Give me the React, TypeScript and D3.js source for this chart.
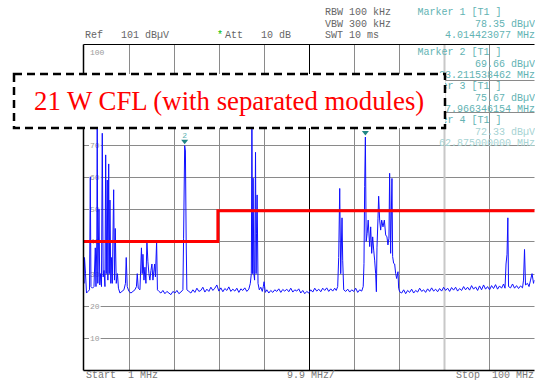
import React from "react";
import * as d3 from "d3";

// ---- data ----
const traceMHz = [
  1.0, 1.11, 1.22, 1.44, 1.66, 1.99, 2.32, 2.49, 2.64, 2.97, 3.3, 3.59, 3.74, 3.92, 4.014, 4.14, 4.4, 4.57, 4.73, 4.95,
  5.12, 5.32, 5.5, 5.71, 5.87, 6.0, 6.22, 6.35, 6.53, 6.66, 6.81, 6.99, 7.14, 7.32, 7.62, 7.8, 7.97, 8.19, 8.46, 8.67,
  9.0, 9.44, 9.88, 10.21, 10.38, 10.6, 10.98, 11.42, 11.85, 12.29, 12.62, 12.8, 13.02, 13.39, 13.72, 13.89, 14.05, 14.27, 14.49, 14.7,
  14.92, 15.14, 15.36, 15.58, 15.8, 16.02, 16.24, 16.61, 16.79, 17.05, 17.23, 17.56, 17.99, 18.43, 18.87, 19.31, 19.75, 20.19, 20.63, 21.07,
  21.51, 21.94, 22.38, 22.82, 22.97, 23.21, 23.37, 23.54, 23.69, 24.13, 24.57, 25.01, 25.45, 25.89, 26.33, 26.76, 27.2, 27.64, 28.08, 28.52,
  28.96, 29.4, 29.83, 30.27, 30.71, 31.15, 31.59, 32.03, 32.47, 32.9, 33.34, 33.78, 34.22, 34.66, 35.1, 35.54, 35.97, 36.41, 36.85, 37.29,
  37.62, 37.84, 37.966, 38.12, 38.23, 38.39, 38.56, 38.76, 38.89, 38.98, 39.11, 39.31, 39.59, 39.92, 40.25, 40.47, 40.64, 40.91, 41.24, 41.68,
  42.11, 42.55, 42.99, 43.43, 43.87, 44.31, 44.74, 45.18, 45.62, 46.06, 46.5, 46.94, 47.38, 47.81, 48.25, 48.69, 49.13, 49.57, 50.01, 50.44,
  50.88, 51.32, 51.76, 52.2, 52.64, 53.08, 53.51, 53.95, 54.39, 54.83, 55.27, 55.71, 56.14, 56.48, 56.8, 57.02, 57.24, 57.46, 57.75, 57.9,
  58.12, 58.56, 59.0, 59.44, 59.88, 60.32, 60.75, 61.19, 61.63, 62.07, 62.4, 62.57, 62.72, 62.875, 63.05, 63.27, 63.49, 63.82, 64.04, 64.26,
  64.48, 64.7, 64.91, 65.13, 65.29, 65.42, 65.64, 65.79, 66.01, 66.23, 66.45, 66.74, 67.04, 67.33, 67.61, 67.83, 68.05, 68.2, 68.42, 68.71,
  68.86, 69.08, 69.3, 69.52, 69.74, 70.03, 70.18, 70.4, 70.84, 71.28, 71.72, 72.15, 72.59, 73.03, 73.47, 73.91, 74.35, 74.79, 75.23, 75.66,
  76.1, 76.54, 76.98, 77.42, 77.86, 78.3, 78.73, 79.17, 79.61, 80.05, 80.49, 80.93, 81.37, 81.8, 82.24, 82.68, 83.12, 83.56, 84.0, 84.44,
  84.87, 85.31, 85.75, 86.19, 86.63, 87.07, 87.51, 87.94, 88.38, 88.82, 89.26, 89.7, 90.14, 90.58, 91.01, 91.45, 91.89, 92.33, 92.77, 93.21,
  93.53, 93.75, 93.97, 94.15, 94.3, 94.74, 95.18, 95.62, 96.06, 96.5, 96.94, 97.37, 97.59, 97.81, 98.03, 98.47, 98.8, 99.13, 99.46, 99.79,
  100.0,
];
const traceDbuv = [
  29, 27, 35, 30, 24, 24.5, 25, 60, 26, 25.5, 26, 38, 26, 40, 78.35, 27, 50, 26.5, 30, 26,
  73.5, 29, 31, 26, 66.8, 30, 59, 28, 64, 30, 52.8, 27, 35, 27, 56, 28, 44, 27, 30, 25.5,
  24, 24.5, 25, 27, 35, 26, 24.5, 24, 24.5, 25, 26, 30, 25.5, 25, 38, 30, 36, 28, 32, 27,
  40, 33.7, 30, 28, 31, 33, 28, 33, 29, 40, 25, 24.5, 24, 24.8, 23.8, 24.5, 24, 23.5, 24.5, 24,
  24.8, 23.8, 24.3, 25, 41, 69.66, 68, 40, 25, 24.5, 24, 25, 24.2, 25.5, 24.5, 24.8, 25.8, 24.3, 25.2, 24.5,
  25.8, 24.8, 25.5, 26.5, 24.6, 25.6, 24.4, 25.4, 24.8, 25.9, 24.5, 25.2, 24.6, 25.5, 24.2, 25.3, 24.8, 25.6, 24.5, 25.2,
  27, 30, 75.67, 30, 59.6, 30, 28, 67.6, 30, 42.5, 54.4, 27, 25, 25.8, 24.5, 26, 27.5, 24.2, 25, 24,
  24.8, 24.2, 25, 24.5, 25.3, 24.2, 25.1, 24.6, 25.2, 24.4, 25.5, 24.3, 25, 24.6, 25.3, 24, 24.8, 23.8, 24.5, 24,
  25, 24.3, 25.5, 24.6, 25.2, 24.4, 25.5, 24.8, 25.6, 24.5, 25.3, 24.6, 25.5, 24.8, 26, 35, 56.4, 30, 47.3, 34,
  25, 24.5, 25.2, 24.3, 25, 24.5, 25.5, 24.2, 25, 24.6, 26, 33.2, 57, 72.33, 40, 42.5, 46.6, 38.4, 44.5, 36.3,
  41.4, 37.3, 34.2, 30, 24.4, 38, 47, 54, 46.6, 43.5, 46.6, 44.5, 46.6, 42, 41.4, 38.9, 41, 61.1, 36.3, 59.5,
  35.3, 33.2, 33, 30.1, 28.5, 30.6, 25.5, 24.4, 24, 25, 23.8, 24.8, 24.2, 25.2, 24, 24.8, 24.3, 25.5, 24.5, 25,
  24.2, 25.3, 24.5, 25.6, 24.6, 25.2, 24.4, 25.4, 24.6, 25.8, 24.8, 25.5, 24.5, 25.7, 24.9, 25.8, 24.6, 25.4, 24.8, 26,
  25, 25.8, 24.9, 26.3, 25.2, 25.9, 24.8, 26.2, 25, 26.5, 25.2, 26, 25, 26.3, 25.4, 26.6, 25.2, 26.2, 25.5, 26.8,
  25.5, 33, 36, 47.3, 26, 25.6, 26.8, 25.5, 26.3, 25.4, 26.2, 25.6, 28, 37.5, 26.5, 27, 26, 28, 30, 27,
  28,
];

const limitMHz = [1, 30.5, 30.5, 100];
const limitDbuv = [40, 40, 49.5, 49.5];

const markerNums = [1, 2, 3, 4];
const markerMHz = [4.014423077, 23.211538462, 37.966346154, 62.875];
const markerDbuv = [78.35, 69.66, 75.67, 72.33];

const gridDbuv = [10, 20, 30, 40, 50, 60, 70, 80, 90];
const yTickLabels = [10, 20, 30, 40, 50, 60, 70, 100];
const xGridMHz = [10.9, 20.8, 30.7, 40.6, 50.5, 60.4, 70.3, 80.2, 90.1];

const headerLeft = ["Ref   101 dBµV"];
const headerSettings = ["RBW 100 kHz", "VBW 300 kHz", "SWT 10 ms"];
const footer = ["Start  1 MHz", "9.9 MHz/", "Stop  100 MHz"];
const title = "21 W CFL (with separated modules)";

// ---- layout ----
const W = 535;
const H = 380;
const L = 83.5;
const R = 534.5;
const T = 44.5;
const B = 370.5;
const BOX = { x: 14, y: 74, w: 431, h: 54 };

export default function App() {
  const x = d3.scaleLinear().domain([1, 100]).range([L, R]);
  const y = d3.scaleLinear().domain([0, 101]).range([B, T]);

  const tracePts: [number, number][] = traceMHz.map((f, i) => [f, traceDbuv[i]]);
  const line = d3
    .line<[number, number]>()
    .x((d) => x(d[0]))
    .y((d) => y(d[1]));
  const limPts: [number, number][] = limitMHz.map((f, i) => [f, limitDbuv[i]]);

  const mono = "'Liberation Mono', 'DejaVu Sans Mono', monospace";
  const teal = "#62b3b3";
  const tealLight = "#a6d3d3";
  const grey = "#666";

  const markerBlockY = [11.7, 51.7, 85.7, 119.7];
  const boxBottom = BOX.y + BOX.h;

  return (
    <svg
      width={W}
      height={H}
      style={{ position: "absolute", left: 0, top: 0, background: "#fff" }}
      fontFamily={mono}
    >
      <defs>
        <clipPath id="plotclip">
          <rect x={L} y={T} width={R - L} height={B - T} />
        </clipPath>
      </defs>
      <rect x={0} y={0} width={W} height={H} fill="#fff" />

      {/* horizontal grid */}
      {gridDbuv.map((v) => (
        <line key={"h" + v} x1={L} x2={R} y1={Math.round(y(v)) + 0.5} y2={Math.round(y(v)) + 0.5} stroke="#8a8a8a" strokeWidth={1} />
      ))}
      {/* vertical grid */}
      {xGridMHz.map((f, i) => {
        const xx = Math.round(x(f)) + 0.5;
        const center = i === 4;
        const light = i === 7;
        return (
          <line
            key={"v" + f}
            x1={xx}
            x2={xx}
            y1={T}
            y2={B}
            stroke={center ? "#000" : light ? "#c8c8c8" : "#8a8a8a"}
            strokeWidth={light ? 2 : 1}
          />
        );
      })}

      {/* y labels */}
      {yTickLabels.map((v) => {
        const yy = v === 100 ? 52 : y(v);
        const lab = String(v);
        return (
          <g key={"yl" + v}>
            <rect x={89} y={yy - 4} width={lab.length * 4.8 + 2} height={8} fill="#fff" />
            <text x={90} y={yy + 3} fontSize={8} fill="#9a9a9a">
              {lab}
            </text>
          </g>
        );
      })}

      {/* trace */}
      <path d={line(tracePts) || ""} fill="none" stroke="#1010ff" strokeWidth={1} clipPath="url(#plotclip)" />

      {/* limit line */}
      <path d={line(limPts) || ""} fill="none" stroke="#ff0000" strokeWidth={3} />

      {/* frame */}
      <line x1={L} x2={R} y1={T} y2={T} stroke="#000" strokeWidth={1.2} />
      <line x1={L} x2={R} y1={B} y2={B} stroke="#000" strokeWidth={1.5} />
      <line x1={L} x2={L} y1={T} y2={B} stroke="#000" strokeWidth={1.5} />

      {/* markers */}
      {markerNums.map((n, i) => {
        const mx = x(markerMHz[i]);
        const my = y(markerDbuv[i]) - 1.5;
        const labelY = my - 6.5;
        return (
          <g key={"m" + n}>
            <path d={`M${mx - 3.5},${my - 4.5} L${mx + 3.5},${my - 4.5} L${mx},${my} Z`} fill="#1f8585" />
            {labelY - 7 > boxBottom ? (
              <text x={mx} y={labelY} fontSize={8} fill={teal} textAnchor="middle">
                {n}
              </text>
            ) : null}
          </g>
        );
      })}

      {/* header */}
      <text x={85} y={37.5} fontSize={10} fill={grey} style={{ whiteSpace: "pre" }}>
        {headerLeft[0]}
      </text>
      <text x={217} y={37.5} fontSize={10} fill="#00c000">
        *
      </text>
      <text x={225} y={37.5} fontSize={10} fill={grey} style={{ whiteSpace: "pre" }}>
        {"Att   10 dB"}
      </text>
      {headerSettings.map((s, i) => (
        <text key={s} x={325} y={15 + i * 11.6} fontSize={10} fill={grey} style={{ whiteSpace: "pre" }}>
          {s}
        </text>
      ))}

      {/* marker info */}
      {markerNums.map((n, i) => {
        const by = markerBlockY[i];
        const c2 = i === 3 ? tealLight : teal;
        return (
          <g key={"mi" + n}>
            <text x={417.5} y={by + 3.5} fontSize={10} fill={teal} style={{ whiteSpace: "pre" }}>
              {`Marker ${n} [T1 ]`}
            </text>
            <text x={535} y={by + 15} fontSize={10} fill={c2} textAnchor="end">
              {`${markerDbuv[i].toFixed(2)} dBµV`}
            </text>
            <text x={535} y={by + 26.5} fontSize={10} fill={c2} textAnchor="end">
              {`${markerMHz[i].toFixed(9)} MHz`}
            </text>
          </g>
        );
      })}

      {/* annotation box */}
      <rect x={BOX.x} y={BOX.y} width={BOX.w} height={BOX.h} fill="#fff" stroke="#000" strokeWidth={2.5} strokeDasharray="8 5" />
      <text x={34} y={110} fontSize={26.8} fill="#ff0000" fontFamily="'Liberation Serif', 'Times New Roman', serif">
        {title}
      </text>

      {/* footer */}
      <text x={86} y={377.5} fontSize={10} fill="#777" style={{ whiteSpace: "pre" }}>
        {footer[0]}
      </text>
      <text x={287} y={377.5} fontSize={10} fill="#777" style={{ whiteSpace: "pre" }}>
        {footer[1]}
      </text>
      <text x={534} y={377.5} fontSize={10} fill="#777" textAnchor="end" style={{ whiteSpace: "pre" }}>
        {footer[2]}
      </text>
    </svg>
  );
}
